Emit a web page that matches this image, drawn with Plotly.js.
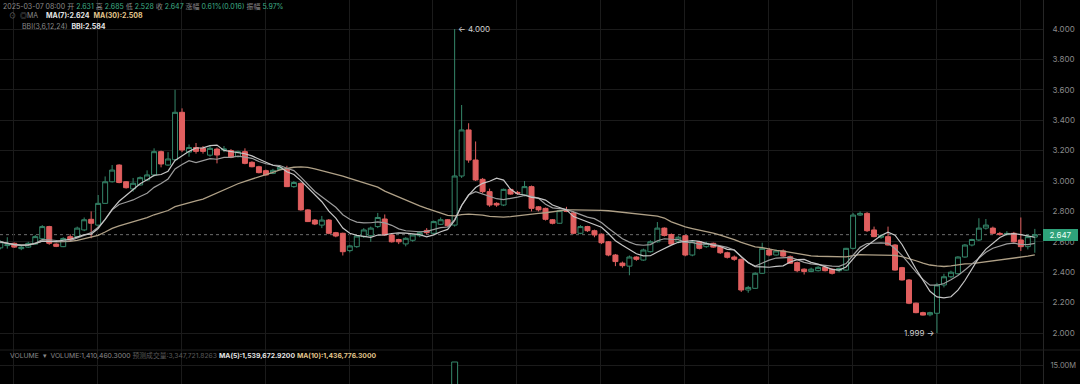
<!DOCTYPE html>
<html><head><meta charset="utf-8">
<script src="https://cdn.plot.ly/plotly-3.0.1.min.js"></script>
<style>html,body{margin:0;padding:0;background:#000;}#chart{width:1080px;height:384px;}</style>
</head><body><div id="chart"></div>
<script>
const open  = [2.560,2.575,2.590,2.555,2.565,2.585,2.620,2.700,2.585,2.568,2.634,2.635,2.678,2.748,2.710,2.853,2.995,3.105,2.995,2.948,2.974,3.007,3.040,3.193,3.105,3.140,3.452,3.190,3.220,3.215,
3.170,3.210,3.205,3.200,3.160,3.193,3.123,3.094,3.068,3.050,3.075,3.077,2.963,2.985,2.810,2.743,2.710,2.743,2.660,2.656,2.542,2.568,2.634,2.640,2.700,2.750,2.645,2.615,2.586,2.610,
2.640,2.675,2.656,2.715,2.745,2.710,3.033,3.336,3.138,3.011,2.930,2.853,2.842,2.945,2.925,2.908,2.963,2.830,2.820,2.745,2.722,2.810,2.790,2.656,2.700,2.673,2.650,2.600,2.513,2.460,
2.440,2.500,2.480,2.535,2.600,2.690,2.648,2.600,2.640,2.513,2.600,2.568,2.590,2.568,2.528,2.500,2.485,2.283,2.294,2.393,2.546,2.513,2.540,2.502,2.463,2.420,2.405,2.410,2.432,2.420,
2.410,2.414,2.557,2.776,2.787,2.678,2.630,2.634,2.579,2.430,2.349,2.196,2.134,2.120,2.130,2.316,2.370,2.390,2.500,2.579,2.612,2.690,2.690,2.655,2.650,2.656,2.612,2.568,2.631];
const high  = [2.610,2.630,2.595,2.575,2.600,2.645,2.710,2.705,2.590,2.630,2.650,2.700,2.760,2.800,2.908,3.030,3.105,3.110,3.000,3.020,3.030,3.070,3.215,3.200,3.190,3.600,3.478,3.240,3.250,3.230,
3.235,3.220,3.230,3.210,3.200,3.215,3.130,3.100,3.075,3.080,3.100,3.100,3.000,2.990,2.815,2.750,2.770,2.750,2.665,2.660,2.580,2.645,2.690,2.700,2.790,2.780,2.650,2.620,2.630,2.650,
2.670,2.690,2.740,2.760,2.750,4.000,3.500,3.380,3.260,3.020,2.950,2.860,2.950,2.950,2.935,3.000,2.970,2.835,2.825,2.750,2.810,2.830,2.800,2.710,2.705,2.680,2.655,2.605,2.520,2.470,
2.510,2.505,2.555,2.610,2.730,2.695,2.655,2.640,2.645,2.605,2.605,2.600,2.595,2.575,2.535,2.510,2.490,2.310,2.400,2.594,2.560,2.550,2.550,2.510,2.470,2.425,2.430,2.440,2.440,2.425,
2.430,2.560,2.790,2.800,2.795,2.700,2.650,2.700,2.585,2.435,2.355,2.200,2.140,2.140,2.330,2.390,2.410,2.505,2.585,2.620,2.755,2.750,2.700,2.665,2.670,2.665,2.760,2.650,2.685];
const low   = [2.550,2.555,2.560,2.545,2.560,2.580,2.615,2.580,2.565,2.565,2.600,2.630,2.670,2.623,2.700,2.850,2.990,2.985,2.950,2.930,2.970,3.000,3.030,3.090,3.100,3.130,3.190,3.160,3.180,3.180,
3.160,3.116,3.190,3.150,3.155,3.110,3.090,3.050,3.035,3.045,3.070,2.960,2.955,2.805,2.730,2.710,2.690,2.650,2.630,2.510,2.530,2.560,2.625,2.600,2.690,2.640,2.595,2.585,2.570,2.600,
2.630,2.650,2.650,2.710,2.700,2.700,3.020,3.120,3.000,2.920,2.830,2.830,2.835,2.910,2.910,2.900,2.800,2.800,2.740,2.715,2.720,2.795,2.650,2.650,2.665,2.630,2.585,2.505,2.440,2.430,
2.380,2.475,2.475,2.530,2.595,2.635,2.580,2.590,2.505,2.505,2.550,2.560,2.560,2.520,2.490,2.475,2.270,2.265,2.290,2.390,2.505,2.510,2.500,2.455,2.400,2.385,2.400,2.405,2.405,2.385,
2.400,2.410,2.550,2.770,2.665,2.630,2.620,2.575,2.410,2.345,2.190,2.130,2.115,2.110,1.999,2.300,2.360,2.385,2.495,2.570,2.605,2.680,2.650,2.640,2.640,2.595,2.540,2.550,2.528];
const close = [2.600,2.580,2.565,2.565,2.590,2.634,2.700,2.590,2.570,2.622,2.612,2.690,2.745,2.722,2.853,2.995,3.072,2.990,2.956,2.985,3.022,3.040,3.193,3.112,3.145,3.452,3.204,3.220,3.195,3.195,
3.215,3.171,3.210,3.156,3.193,3.116,3.094,3.055,3.040,3.070,3.090,2.963,2.990,2.810,2.733,2.717,2.743,2.656,2.638,2.535,2.573,2.638,2.678,2.690,2.760,2.645,2.600,2.600,2.623,2.645,
2.660,2.660,2.733,2.745,2.705,3.033,3.336,3.138,3.007,2.930,2.842,2.842,2.945,2.914,2.920,2.963,2.820,2.810,2.748,2.722,2.805,2.800,2.656,2.700,2.673,2.645,2.594,2.513,2.470,2.443,
2.500,2.485,2.546,2.600,2.690,2.642,2.585,2.630,2.513,2.600,2.557,2.590,2.565,2.528,2.498,2.485,2.283,2.300,2.393,2.557,2.513,2.540,2.506,2.459,2.410,2.405,2.420,2.432,2.410,2.393,
2.425,2.557,2.776,2.787,2.673,2.634,2.640,2.579,2.414,2.349,2.196,2.134,2.118,2.134,2.316,2.370,2.400,2.500,2.579,2.615,2.690,2.710,2.656,2.650,2.655,2.600,2.568,2.634,2.647];
const volumeIndex = [65, 148];
const volumeValue = [15750000, 1410460.3];
const volumeTickVals = [15000000];
const volumeTickText = ['15.00M'];

const GREEN = '#35876a', RED = '#e15f5f', GRID = '#1b1b1b';
const idx = close.map((_, i) => i);
function ma(n) {
  return close.map((_, i) => {
    const s = Math.max(0, i - n + 1);
    let sum = 0; for (let k = s; k <= i; k++) sum += close[k];
    return sum / (i - s + 1);
  });
}
const ma7 = ma(7), ma30 = ma(30);
const m3 = ma(3), m6 = ma(6), m12 = ma(12), m24 = ma(24);
const bbi = close.map((_, i) => (m3[i] + m6[i] + m12[i] + m24[i]) / 4);

const traces = [
  {type:'candlestick', x: idx, open, high, low, close, xaxis:'x', yaxis:'y',
   increasing:{line:{color:GREEN,width:1}, fillcolor:'#000'},
   decreasing:{line:{color:RED,width:1}, fillcolor:RED},
   whiskerwidth:0, hoverinfo:'skip'},
  {type:'scatter', mode:'lines', x: idx, y: ma30, line:{color:'#b0a187', width:1.3}, hoverinfo:'skip'},
  {type:'scatter', mode:'lines', x: idx, y: bbi, line:{color:'#9c9c9c', width:1.2}, hoverinfo:'skip'},
  {type:'scatter', mode:'lines', x: idx, y: ma7, line:{color:'#c6c6c6', width:1.2}, hoverinfo:'skip'},
  {type:'bar', x: volumeIndex, y: volumeValue, xaxis:'x', yaxis:'y2', width:0.85,
   marker:{color:'#000', line:{color:GREEN, width:1}}, hoverinfo:'skip'}
];

const W = 1043, H = 384;
const px = v => v / W, py = v => 1 - v / H;
let maxI = 0, minI = 0;
high.forEach((v,i)=>{ if (v > high[maxI]) maxI = i; });
low.forEach((v,i)=>{ if (v < low[minI]) minI = i; });
const last = close.length - 1;
const FONT = 'Inter, "Noto Sans CJK SC", sans-serif';
const gray = '#8a8a8a';
function ann(x, y, text, color, size) {
  return {xref:'paper', yref:'paper', x: px(x), y: py(y), xanchor:'left', yanchor:'middle',
    text, showarrow:false, font:{family:FONT, size: size || 7, color}};
}
const S = (c, t) => '<span style="color:' + c + '">' + t + '</span>';
const vg = '#3fae86', white = '#e4e4e4', tan = '#e0c58c';
const nb = '\u00a0', nb2 = '\u00a0\u00a0';
const line1 = S(gray,'2025-03-07 08:00') + nb + S(gray,'开') + nb + S(vg,'2.631') + nb + S(gray,'高') + nb + S(vg,'2.685') + nb +
  S(gray,'低') + nb + S(vg,'2.528') + nb + S(gray,'收') + nb + S(vg,'2.647') + nb + S(gray,'涨幅') + nb + S(vg,'0.61%(0.016)') + nb + S(gray,'振幅') + nb + S(vg,'5.97%');
const line2 = S('#777','⊙') + nb2 + S(gray,'◎MA') + nb2 + nb2 + S(white,'<b>MA(7):2.624</b>') + nb2 + S(tan,'<b>MA(30):2.508</b>');
const line3 = S(gray,'BBI(3,6,12,24)') + nb2 + S(white,'<b>BBI:2.584</b>');
const line4 = S(gray,'VOLUME') + nb2 + S(gray,'▾') + nb2 + S(gray,'VOLUME:1,410,460.3000') + nb + S('#5a5a5a','预测成交量:3,347,721.8263') + nb +
  S(white,'<b>MA(5):1,539,672.9200</b>') + nb + S(tan,'<b>MA(10):1,436,776.3000</b>');

const annotations = [
  ann(1, 6, line1, gray, 7),
  ann(7, 16, line2, gray, 7),
  ann(20, 26, line3, gray, 7),
  ann(8, 355.5, line4, gray, 6.8),
  {xref:'x', yref:'y', x: maxI, y: high[maxI], xanchor:'left', yanchor:'middle', xshift:1,
   text:'← ' + high[maxI].toFixed(3), showarrow:false, font:{family:FONT, size:8, color:'#d0d0d0'}},
  {xref:'x', yref:'y', x: minI, y: low[minI], xanchor:'right', yanchor:'middle', xshift:-1,
   text: low[minI].toFixed(3) + ' →', showarrow:false, font:{family:FONT, size:8, color:'#d0d0d0'}},
  {xref:'paper', yref:'y', x:1, y: close[last], xanchor:'left', yanchor:'middle', text: close[last].toFixed(3),
   showarrow:false, bgcolor:'#2ea27a', width:33, height:10, borderpad:1, borderwidth:0,
   font:{family:FONT, size:8, color:'#eafff6'}}
];

const layout = {
  width:1080, height:384, margin:{l:0, r:37, t:0, b:0, pad:0},
  paper_bgcolor:'#000', plot_bgcolor:'#000', showlegend:false,
  boxgap:0.29, boxgroupgap:0, bargap:0,
  xaxis:{range:[-0.043, 149.17], showticklabels:false, ticks:'', showgrid:true, gridcolor:GRID, gridwidth:1,
    tick0:13.9, dtick:12, zeroline:false, showline:false, rangeslider:{visible:false}, fixedrange:true, anchor:'y'},
  yaxis:{domain:[34/384, 1], range:[1.8882, 4.1908], side:'right', tick0:0, dtick:0.2, tickformat:'.3f',
    showgrid:true, gridcolor:GRID, zeroline:false, showline:true, linecolor:'#262626', linewidth:1, ticks:'',
    ticklabelstandoff:7, tickfont:{family:FONT, size:8, color:'#8a8a8a'}, fixedrange:true},
  yaxis2:{domain:[0, 34/384], range:[10250000, 18750000], side:'right', anchor:'x', tickvals:volumeTickVals, ticktext:volumeTickText,
    showgrid:true, gridcolor:GRID, zeroline:false, showline:true, linecolor:'#262626', linewidth:1, ticks:'',
    ticklabelstandoff:5, tickfont:{family:FONT, size:7.5, color:'#8a8a8a'}, fixedrange:true},
  shapes:[
    {type:'line', xref:'paper', yref:'y', x0:0, x1:1, y0:close[last], y1:close[last], line:{color:'#6e6e6e', width:1, dash:'3px,3px'}, layer:'below'},
    {type:'line', xref:'paper', yref:'paper', x0:0, x1:1080/1043, y0:34/384, y1:34/384, line:{color:'#1e1e1e', width:1}}
  ],
  annotations
};
Plotly.newPlot('chart', traces, layout, {displayModeBar:false, staticPlot:true});
</script></body></html>
